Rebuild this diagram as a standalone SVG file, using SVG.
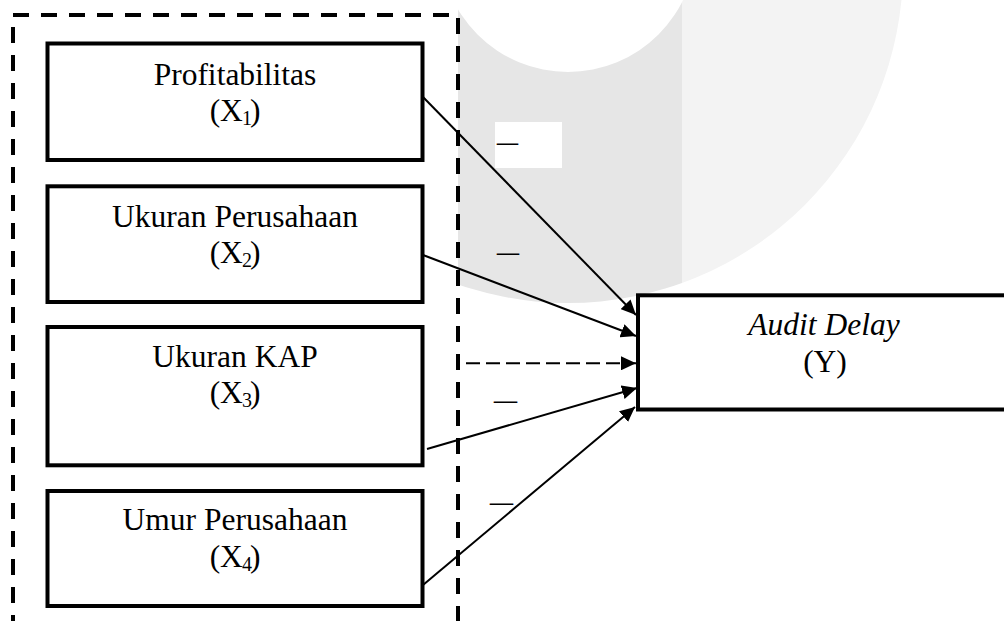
<svg xmlns="http://www.w3.org/2000/svg" width="1004" height="621" viewBox="0 0 1004 621">
<style>
text{font-family:"Liberation Serif","Times New Roman",serif;font-size:31.5px;fill:#000}
.mid{text-anchor:middle}
.sub{font-size:20px}
.box{fill:#fff;stroke:#000;stroke-width:4}
.frame{fill:none;stroke:#000;stroke-width:4;stroke-dasharray:16 12}
.conn{stroke:#000;stroke-width:2;fill:none}
.dash{stroke-dasharray:14 6}
.sign{font-size:32px}
</style>
<defs>
<marker id="ah" markerUnits="userSpaceOnUse" markerWidth="15" markerHeight="14" refX="15" refY="7" orient="auto">
<path d="M0,0 L15,7 L0,14 Z" fill="#000"/>
</marker>
<clipPath id="cDark"><rect x="458" y="0" width="224" height="621"/></clipPath>
<clipPath id="cLight"><rect x="682" y="0" width="322" height="621"/></clipPath>
<path id="ring" fill-rule="evenodd" d="M233,-32 A335,335 0 1 0 903,-32 A335,335 0 1 0 233,-32 Z M440,-56 A128,128 0 1 0 696,-56 A128,128 0 1 0 440,-56 Z"/>
</defs>
<rect width="1004" height="621" fill="#fff"/>
<g id="watermark">
<use href="#ring" fill="#e6e6e6" clip-path="url(#cDark)"/>
<use href="#ring" fill="#f3f3f3" clip-path="url(#cLight)"/>
</g>
<g id="group-frame">
<line class="frame" x1="13" y1="15" x2="458" y2="15"/>
<line class="frame" x1="13" y1="27" x2="13" y2="630"/>
<line class="frame" x1="458" y1="18" x2="458" y2="630"/>
</g>
<g id="x1">
<rect class="box" x="47.5" y="43.5" width="375" height="116.5"/>
<text class="mid" x="235" y="85">Profitabilitas</text>
<text class="mid" x="235" y="121">(X<tspan class="sub" dx="-1" dy="4">1</tspan><tspan dx="-2" dy="-4">)</tspan></text>
</g>
<g id="x2">
<rect class="box" x="47.5" y="186.3" width="375" height="115.7"/>
<text class="mid" x="235" y="227">Ukuran Perusahaan</text>
<text class="mid" x="235" y="263">(X<tspan class="sub" dx="-1" dy="4">2</tspan><tspan dx="-2" dy="-4">)</tspan></text>
</g>
<g id="x3">
<rect class="box" x="47.5" y="327" width="375" height="138.3"/>
<text class="mid" x="235" y="367">Ukuran KAP</text>
<text class="mid" x="235" y="403">(X<tspan class="sub" dx="-1" dy="4">3</tspan><tspan dx="-2" dy="-4">)</tspan></text>
</g>
<g id="x4">
<rect class="box" x="47.5" y="491" width="375" height="115"/>
<text class="mid" x="235" y="530">Umur Perusahaan</text>
<text class="mid" x="235" y="567">(X<tspan class="sub" dx="-1" dy="4">4</tspan><tspan dx="-2" dy="-4">)</tspan></text>
</g>
<g id="y">
<rect class="box" x="638" y="295.3" width="400" height="114.2"/>
<text class="mid" x="824" y="335" font-style="italic">Audit Delay</text>
<text class="mid" x="825" y="372">(Y)</text>
</g>
<g id="connectors">
<rect x="495" y="122" width="67" height="46" fill="#fff"/>
<line class="conn" x1="423" y1="97" x2="636" y2="315" marker-end="url(#ah)"/>
<line class="conn" x1="423" y1="255" x2="636" y2="336" marker-end="url(#ah)"/>
<line class="conn dash" x1="466" y1="363.3" x2="636" y2="363.3" marker-end="url(#ah)"/>
<line class="conn" x1="427" y1="449" x2="637" y2="388" marker-end="url(#ah)"/>
<line class="conn" x1="423" y1="585" x2="635" y2="407" marker-end="url(#ah)"/>
<text class="sign" x="497" y="152" textLength="21" lengthAdjust="spacingAndGlyphs">–</text>
<text class="sign" x="497" y="262" textLength="22" lengthAdjust="spacingAndGlyphs">–</text>
<text class="sign" x="494" y="410" textLength="23" lengthAdjust="spacingAndGlyphs">–</text>
<text class="sign" x="490" y="512" textLength="23" lengthAdjust="spacingAndGlyphs">–</text>
</g>
</svg>
